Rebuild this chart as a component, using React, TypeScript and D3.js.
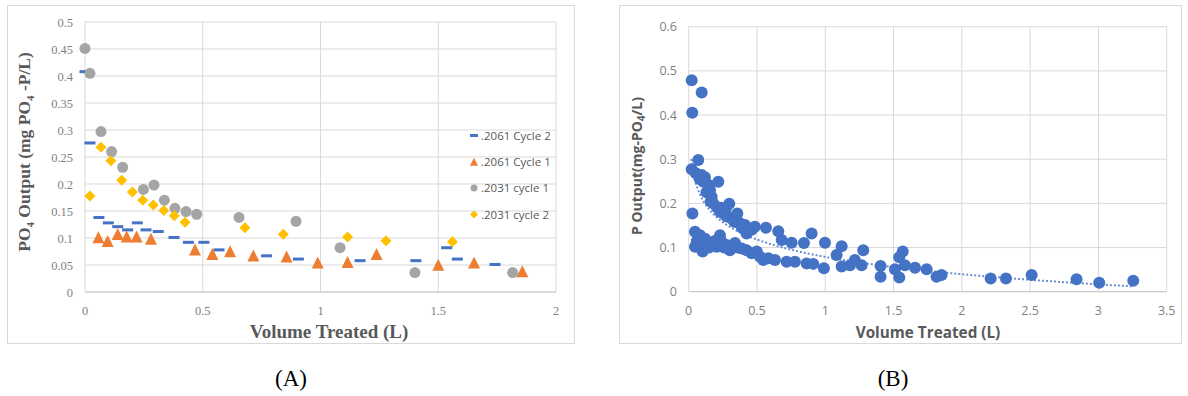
import React from "react";
import * as d3 from "d3";

// ---------- Panel A data ----------
const seriesA_names = [".2061 Cycle 2", ".2061 Cycle 1", ".2031 cycle 1", ".2031 cycle 2"];

const c2061_2_x = [0, 0.021, 0.059, 0.099, 0.139, 0.181, 0.222, 0.259, 0.311, 0.378, 0.439, 0.505, 0.569, 0.771, 0.906, 1.168, 1.405, 1.536, 1.581, 1.741];
const c2061_2_y = [0.408, 0.276, 0.138, 0.128, 0.121, 0.115, 0.128, 0.115, 0.112, 0.101, 0.092, 0.092, 0.078, 0.067, 0.061, 0.058, 0.058, 0.082, 0.061, 0.051];

const c2061_1_x = [0.057, 0.096, 0.139, 0.177, 0.219, 0.28, 0.467, 0.541, 0.616, 0.715, 0.856, 0.988, 1.115, 1.238, 1.5, 1.652, 1.857];
const c2061_1_y = [0.101, 0.094, 0.107, 0.102, 0.102, 0.098, 0.078, 0.07, 0.075, 0.067, 0.065, 0.054, 0.055, 0.07, 0.05, 0.054, 0.038];

const c2031_1_x = [0, 0.021, 0.068, 0.113, 0.16, 0.248, 0.293, 0.337, 0.382, 0.429, 0.474, 0.654, 0.896, 1.083, 1.401, 1.816];
const c2031_1_y = [0.451, 0.405, 0.297, 0.26, 0.231, 0.19, 0.198, 0.17, 0.155, 0.149, 0.144, 0.138, 0.131, 0.082, 0.036, 0.036];

const c2031_2_x = [0.021, 0.068, 0.11, 0.156, 0.201, 0.245, 0.29, 0.335, 0.379, 0.425, 0.679, 0.842, 1.115, 1.278, 1.56];
const c2031_2_y = [0.178, 0.268, 0.243, 0.207, 0.185, 0.17, 0.161, 0.151, 0.141, 0.129, 0.119, 0.107, 0.102, 0.095, 0.093];

const xTicksA = ["0", "0.5", "1", "1.5", "2"];
const yTicksA = ["0", "0.05", "0.1", "0.15", "0.2", "0.25", "0.3", "0.35", "0.4", "0.45", "0.5"];

// ---------- Panel B data ----------
const pB_x = [
  0.022, 0.095, 0.026,
  0.022, 0.07, 0.053, 0.095, 0.119, 0.107, 0.144, 0.156, 0.168, 0.161, 0.217, 0.205, 0.229, 0.254, 0.297, 0.278, 0.315, 0.356, 0.339, 0.376, 0.412, 0.437, 0.461, 0.424, 0.485, 0.566, 0.656, 0.681, 0.754, 0.844, 0.9, 0.998, 1.12, 1.278,
  0.08, 0.13, 0.18, 0.24, 0.27, 0.33, 0.39,
  0.027, 0.046, 0.083, 0.046, 0.07, 0.102, 0.132, 0.168, 0.205, 0.229, 0.241, 0.278, 0.302, 0.339, 0.388, 0.424, 0.461, 0.498, 0.522, 0.546, 0.583, 0.632, 0.717, 0.778, 0.864, 0.912, 0.99, 1.083, 1.12, 1.181, 1.217, 1.266, 1.405, 1.405,
  0.06, 0.09, 0.12, 0.15, 0.19, 0.26, 0.32, 0.36,
  1.51, 1.542, 1.567, 1.542, 1.583, 1.657, 1.742, 1.815, 1.852, 2.211, 2.323, 2.511, 2.84, 3.006, 3.255,
];
const pB_y = [
  0.479, 0.451, 0.405,
  0.277, 0.298, 0.268, 0.264, 0.259, 0.249, 0.242, 0.23, 0.215, 0.204, 0.249, 0.192, 0.181, 0.177, 0.199, 0.17, 0.166, 0.177, 0.158, 0.155, 0.151, 0.143, 0.14, 0.132, 0.147, 0.145, 0.137, 0.117, 0.111, 0.11, 0.132, 0.111, 0.103, 0.094,
  0.255, 0.225, 0.2, 0.19, 0.185, 0.16, 0.145,
  0.177, 0.136, 0.128, 0.102, 0.102, 0.091, 0.106, 0.11, 0.102, 0.128, 0.113, 0.106, 0.094, 0.11, 0.098, 0.094, 0.087, 0.091, 0.079, 0.072, 0.076, 0.072, 0.068, 0.068, 0.064, 0.063, 0.053, 0.083, 0.057, 0.06, 0.072, 0.06, 0.058, 0.034,
  0.115, 0.105, 0.12, 0.1, 0.115, 0.1, 0.1, 0.1,
  0.051, 0.032, 0.091, 0.078, 0.06, 0.054, 0.051, 0.034, 0.038, 0.03, 0.03, 0.038, 0.028, 0.02, 0.025,
];
// Logarithmic trendline: y = a + b*ln(x)
const trendB_a = 0.0788;
const trendB_b = -0.0566;
const trendB_range = [0.02, 3.25];

const xTicksB = ["0", "0.5", "1", "1.5", "2", "2.5", "3", "3.5"];
const yTicksB = ["0", "0.1", "0.2", "0.3", "0.4", "0.5", "0.6"];

const BLUE = "#4472C4";
const ORANGE = "#ED7D31";
const GREY = "#A5A5A5";
const GOLD = "#FFC000";
const GRID = "#d9d9d9";
const LABEL = "#7f7f7f";
const TITLE = "#595959";

const SERIF = "'Liberation Serif', 'DejaVu Serif', serif";
const SANS = "'Open Sans', 'Liberation Sans', sans-serif";

function tri(s: number) {
  return `M0,${-s * 1.05} L${s},${s * 0.95} L${-s},${s * 0.95} Z`;
}
function dia(s: number) {
  return `M0,${-s} L${s},0 L0,${s} L${-s},0 Z`;
}

function PanelA() {
  const x = d3.scaleLinear().domain([0, 2]).range([85, 556]);
  const y = d3.scaleLinear().domain([0, 0.5]).range([292, 22]);
  const legY = [135.5, 162, 188, 214.5];
  const legX = 474;
  return (
    <g>
      <rect x={7.5} y={5.5} width={567} height={338} fill="#fff" stroke={GRID} />
      {yTicksA.map((t) => (
        <g key={"ya" + t}>
          <line x1={x(0)} x2={x(2)} y1={y(+t)} y2={y(+t)} stroke={GRID} strokeWidth={1} />
          <text x={73} y={y(+t) + 4.5} textAnchor="end" fontFamily={SERIF} fontSize={12.5} fill={LABEL}>
            {t}
          </text>
        </g>
      ))}
      {xTicksA.map((t) => (
        <g key={"xa" + t}>
          <line x1={x(+t)} x2={x(+t)} y1={y(0)} y2={y(0.5)} stroke={GRID} strokeWidth={1} />
          <text x={x(+t)} y={315} textAnchor="middle" fontFamily={SERIF} fontSize={12.5} fill={LABEL}>
            {t}
          </text>
        </g>
      ))}
      <line x1={x(0)} x2={x(2)} y1={y(0)} y2={y(0)} stroke="#c8c8c8" />
      {c2061_2_x.map((v, i) => (
        <rect key={"d" + i} x={x(v) - 5.5} y={y(c2061_2_y[i]) - 1.5} width={11} height={3} fill={BLUE} />
      ))}
      {c2061_1_x.map((v, i) => (
        <path key={"t" + i} d={tri(6)} transform={`translate(${x(v)},${y(c2061_1_y[i])})`} fill={ORANGE} />
      ))}
      {c2031_1_x.map((v, i) => (
        <circle key={"c" + i} cx={x(v)} cy={y(c2031_1_y[i])} r={5.5} fill={GREY} />
      ))}
      {c2031_2_x.map((v, i) => (
        <path key={"m" + i} d={dia(5.5)} transform={`translate(${x(v)},${y(c2031_2_y[i])})`} fill={GOLD} />
      ))}
      <rect x={legX - 4} y={legY[0] - 1.5} width={8} height={3} fill={BLUE} />
      <path d={tri(4)} transform={`translate(${legX},${legY[1]})`} fill={ORANGE} />
      <circle cx={legX} cy={legY[2]} r={3.5} fill={GREY} />
      <path d={dia(4)} transform={`translate(${legX},${legY[3]})`} fill={GOLD} />
      {seriesA_names.map((n, i) => (
        <text key={n} x={legX + 7} y={legY[i] + 4} fontFamily={SANS} fontSize={11.5} fill={TITLE}>
          {n}
        </text>
      ))}
      <text x={329} y={338} textAnchor="middle" fontFamily={SERIF} fontWeight="bold" fontSize={19} fill={TITLE}>
        Volume Treated (L)
      </text>
      <text transform="translate(30,152) rotate(-90)" textAnchor="middle" fontFamily={SERIF} fontWeight="bold" fontSize={17.5} fill={TITLE}>
        PO<tspan fontSize={11} dy={4}>4</tspan>
        <tspan dy={-4}> Output (mg PO</tspan>
        <tspan fontSize={11} dy={4}>4</tspan>
        <tspan dy={-4}> -P/L)</tspan>
      </text>
      <text x={291} y={386} textAnchor="middle" fontFamily={SERIF} fontSize={23} fill="#000">
        (A)
      </text>
    </g>
  );
}

function PanelB() {
  const x = d3.scaleLinear().domain([0, 3.5]).range([688.7, 1166.7]);
  const y = d3.scaleLinear().domain([0, 0.6]).range([291.7, 26.7]);
  const trendXs = d3.range(0, 201).map((i) => trendB_range[0] + ((trendB_range[1] - trendB_range[0]) * i) / 200);
  const line = d3
    .line<number>()
    .x((v) => x(v))
    .y((v) => y(trendB_a + trendB_b * Math.log(v)));
  return (
    <g>
      <rect x={619.5} y={5.5} width={562} height={338} fill="#fff" stroke={GRID} />
      {yTicksB.map((t) => (
        <g key={"yb" + t}>
          <line x1={x(0)} x2={x(3.5)} y1={y(+t)} y2={y(+t)} stroke={GRID} strokeWidth={1} />
          <text x={677} y={y(+t) + 4.5} textAnchor="end" fontFamily={SANS} fontSize={12.5} fill={LABEL}>
            {t}
          </text>
        </g>
      ))}
      {xTicksB.map((t) => (
        <g key={"xb" + t}>
          <line x1={x(+t)} x2={x(+t)} y1={y(0)} y2={y(0.6)} stroke={GRID} strokeWidth={1} />
          <text x={x(+t)} y={315} textAnchor="middle" fontFamily={SANS} fontSize={12.5} fill={LABEL}>
            {t}
          </text>
        </g>
      ))}
      <line x1={x(0)} x2={x(3.5)} y1={y(0)} y2={y(0)} stroke="#c8c8c8" />
      {pB_x.map((v, i) => (
        <circle key={"p" + i} cx={x(v)} cy={y(pB_y[i])} r={6} fill={BLUE} />
      ))}
      <path d={line(trendXs) || ""} fill="none" stroke={BLUE} strokeWidth={2} strokeDasharray="2,2" opacity={0.8} />
      <text x={928} y={338} textAnchor="middle" fontFamily={SANS} fontWeight="bold" fontSize={15.3} fill={TITLE}>
        Volume Treated (L)
      </text>
      <text transform="translate(642,166) rotate(-90)" textAnchor="middle" fontFamily={SANS} fontWeight="bold" fontSize={14} fill={TITLE}>
        P Output(mg-PO<tspan fontSize={10} dy={3}>4</tspan>
        <tspan dy={-3}>/L)</tspan>
      </text>
      <text x={893} y={386} textAnchor="middle" fontFamily={SERIF} fontSize={23} fill="#000">
        (B)
      </text>
    </g>
  );
}

export default function App() {
  return (
    <svg
      width={1188}
      height={396}
      style={{ position: "absolute", left: 0, top: 0, background: "#fff" }}
    >
      <rect width={1188} height={396} fill="#fff" />
      <PanelA />
      <PanelB />
    </svg>
  );
}
